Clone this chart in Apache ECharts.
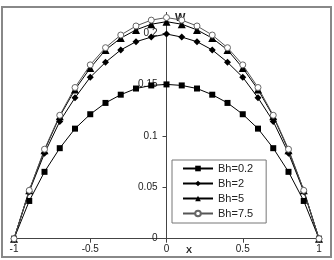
<!DOCTYPE html>
<html>
<head>
<meta charset="utf-8">
<script src="https://cdn.jsdelivr.net/npm/echarts@6/dist/echarts.min.js"></script>
<style>
  html, body { margin: 0; padding: 0; background: #fff; }
  #chart { width: 334px; height: 260px; }
</style>
</head>
<body>
<div id="chart"></div>
<script>
const xs = [-1, -0.9, -0.8, -0.7, -0.6, -0.5, -0.4, -0.3, -0.2, -0.1, 0,
  0.1, 0.2, 0.3, 0.4, 0.5, 0.6, 0.7, 0.8, 0.9, 1];
const bh02 = [0, 0.0367, 0.065, 0.088, 0.107, 0.121, 0.132, 0.140, 0.146, 0.149, 0.150,
  0.149, 0.146, 0.140, 0.132, 0.121, 0.107, 0.088, 0.065, 0.0367, 0];
const bh2 = [0, 0.046, 0.083, 0.114, 0.137, 0.157, 0.1715, 0.1835, 0.1915, 0.196, 0.199,
  0.196, 0.1915, 0.1835, 0.1715, 0.157, 0.137, 0.114, 0.083, 0.046, 0];
const bh5 = [0, 0.047, 0.086, 0.119, 0.145, 0.166, 0.1835, 0.195, 0.203, 0.2085, 0.211,
  0.2085, 0.203, 0.195, 0.1835, 0.166, 0.145, 0.119, 0.086, 0.047, 0];
const bh75 = [0, 0.047, 0.087, 0.120, 0.147, 0.169, 0.1857, 0.198, 0.2068, 0.2125, 0.215,
  0.2125, 0.2068, 0.198, 0.1857, 0.169, 0.147, 0.120, 0.087, 0.047, 0];

const pairs = (ys) => xs.map((x, i) => [x, ys[i]]);

const myChart = echarts.init(document.getElementById('chart'));
const font = 'Liberation Sans, Arial, sans-serif';

myChart.setOption({
  animation: false,
  grid: { left: 14, right: 15, top: 12.4, bottom: 21.3, outerBoundsMode: 'none', containLabel: false },
  xAxis: {
    type: 'value',
    min: -1,
    max: 1,
    interval: 0.5,
    splitLine: { show: false },
    axisLine: { lineStyle: { color: '#444', width: 1 } },
    axisTick: { length: 4, lineStyle: { color: '#444' } },
    axisLabel: { color: '#222', fontSize: 10, fontFamily: font, margin: 6 },
  },
  yAxis: {
    type: 'value',
    min: 0,
    max: 0.22,
    interval: 0.05,
    // move the axis to x = 0 (middle of the grid)
    offset: -152.5,
    splitLine: { show: false },
    axisLine: { onZero: false, lineStyle: { color: '#444', width: 1 } },
    axisTick: { length: 4, lineStyle: { color: '#444' } },
    axisLabel: { color: '#222', fontSize: 10, fontFamily: font, margin: 9, showMaxLabel: false },
  },
  legend: {
    orient: 'vertical',
    left: 172,
    top: 160,
    backgroundColor: '#fff',
    borderColor: '#777',
    borderWidth: 1,
    borderRadius: 0,
    padding: [3, 13, 4, 10],
    itemWidth: 30,
    itemHeight: 7,
    itemGap: 4,
    textStyle: { color: '#222', fontSize: 11, fontFamily: font },
    data: ['Bh=0.2', 'Bh=2', 'Bh=5', 'Bh=7.5'],
  },
  graphic: [
    {
      type: 'rect',
      shape: { x: 2, y: 7, width: 329, height: 250 },
      style: { fill: 'none', stroke: '#888', lineWidth: 2 },
      silent: true,
    },
    {
      type: 'text', left: 175, top: 12,
      style: { text: 'W', font: 'bold 11px ' + font, fill: '#222' },
    },
    {
      type: 'text', left: 186, top: 246,
      style: { text: 'X', font: 'bold 9px ' + font, fill: '#222' },
    },
  ],
  series: [
    {
      name: 'Bh=0.2', type: 'line', data: pairs(bh02),
      symbol: 'rect', symbolSize: 6,
      itemStyle: { color: '#000' },
      lineStyle: { color: '#000', width: 1 },
    },
    {
      name: 'Bh=2', type: 'line', data: pairs(bh2),
      symbol: 'diamond', symbolSize: 7,
      itemStyle: { color: '#000' },
      lineStyle: { color: '#000', width: 1 },
    },
    {
      name: 'Bh=5', type: 'line', data: pairs(bh5),
      symbol: 'triangle', symbolSize: 8,
      itemStyle: { color: '#000' },
      lineStyle: { color: '#000', width: 1 },
    },
    {
      name: 'Bh=7.5', type: 'line', data: pairs(bh75),
      symbol: 'circle', symbolSize: 6,
      itemStyle: { color: '#fff', borderColor: '#666', borderWidth: 1 },
      lineStyle: { color: '#555', width: 1 },
    },
  ],
});
</script>
</body>
</html>
